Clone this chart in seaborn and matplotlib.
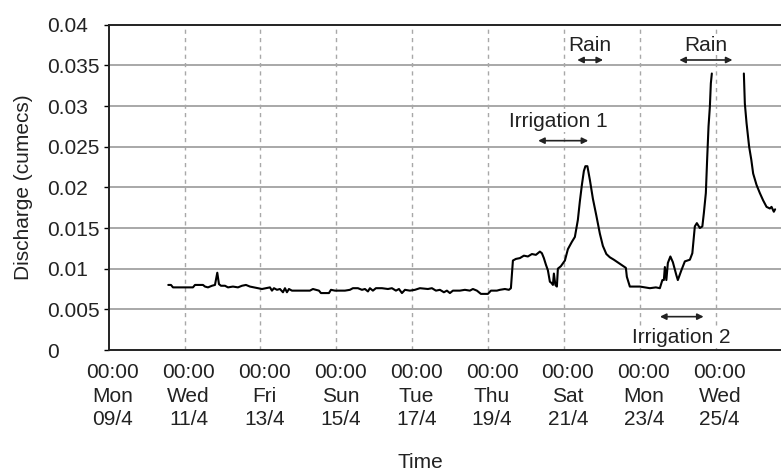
import numpy as np
import pandas as pd
import matplotlib
matplotlib.use("Agg")
import matplotlib.pyplot as plt
import matplotlib.transforms as mtransforms
import seaborn as sns

# ---- data (days since Mon 09/4 00:00, discharge in cumecs) ----
days_a = [1.570, 1.642, 1.694, 2.221, 2.274, 2.485, 2.538, 2.617, 2.722, 2.801,
          2.862, 2.906, 2.959, 3.065, 3.144, 3.275, 3.407, 3.513, 3.618, 3.723,
          3.829, 3.934, 4.040, 4.145, 4.250, 4.303, 4.356, 4.435, 4.514, 4.593,
          4.646, 4.698, 4.751, 4.830, 5.041, 5.304, 5.383, 5.462, 5.542, 5.594,
          5.805, 5.858, 5.963, 6.227, 6.358, 6.437, 6.569, 6.675, 6.754, 6.833,
          6.885, 6.964, 7.043, 7.202, 7.360, 7.465, 7.571, 7.650, 7.729, 7.808,
          7.939, 8.071, 8.203, 8.414, 8.519, 8.625, 8.730, 8.835, 8.914, 8.993,
          9.073, 9.257, 9.389, 9.520, 9.599, 9.705, 9.810, 9.995, 10.074, 10.232,
          10.311, 10.443, 10.548, 10.601, 10.654, 10.733, 10.838, 10.943, 11.049, 11.154,
          11.260, 11.365, 11.418, 11.470, 11.523, 11.576, 11.628, 11.681, 11.708, 11.734,
          11.773, 11.813, 11.839, 11.918, 12.024, 12.103, 12.208, 12.287, 12.366, 12.419,
          12.472, 12.524, 12.564, 12.617, 12.683, 12.762, 12.854, 12.946, 13.025, 13.117,
          13.209, 13.315, 13.473, 13.631, 13.657, 13.736, 14.000, 14.132, 14.264, 14.422,
          14.527, 14.593, 14.632, 14.659, 14.698, 14.738, 14.804, 14.870, 14.962, 15.001,
          15.094, 15.186, 15.318, 15.383, 15.449, 15.502, 15.581, 15.647, 15.686, 15.739,
          15.773, 15.810, 15.845, 15.871, 15.897]
flow_a = [0.0080, 0.0080, 0.0077, 0.0077, 0.0080, 0.0080, 0.0078, 0.0077, 0.0079, 0.0080,
          0.0095, 0.0081, 0.0079, 0.0079, 0.0077, 0.0078, 0.0077, 0.0079, 0.0080, 0.0078,
          0.0077, 0.0076, 0.0075, 0.0076, 0.0077, 0.0073, 0.0076, 0.0074, 0.0075, 0.0071,
          0.0076, 0.0071, 0.0075, 0.0073, 0.0073, 0.0073, 0.0075, 0.0074, 0.0073, 0.0070,
          0.0070, 0.0074, 0.0073, 0.0073, 0.0074, 0.0076, 0.0076, 0.0074, 0.0075, 0.0072,
          0.0076, 0.0073, 0.0076, 0.0076, 0.0075, 0.0076, 0.0073, 0.0075, 0.0070, 0.0074,
          0.0073, 0.0074, 0.0076, 0.0075, 0.0076, 0.0073, 0.0074, 0.0071, 0.0073, 0.0070,
          0.0073, 0.0073, 0.0074, 0.0073, 0.0075, 0.0073, 0.0069, 0.0069, 0.0073, 0.0073,
          0.0074, 0.0075, 0.0074, 0.0076, 0.0110, 0.0112, 0.0113, 0.0116, 0.0115, 0.0118,
          0.0117, 0.0121, 0.0119, 0.0113, 0.0105, 0.0098, 0.0084, 0.0082, 0.0080, 0.0094,
          0.0080, 0.0078, 0.0100, 0.0103, 0.0110, 0.0124, 0.0133, 0.0139, 0.0160, 0.0183,
          0.0203, 0.0220, 0.0226, 0.0226, 0.0209, 0.0186, 0.0165, 0.0143, 0.0128, 0.0118,
          0.0114, 0.0111, 0.0106, 0.0101, 0.0090, 0.0078, 0.0078, 0.0077, 0.0076, 0.0077,
          0.0076, 0.0086, 0.0086, 0.0102, 0.0086, 0.0107, 0.0115, 0.0108, 0.0092, 0.0086,
          0.0098, 0.0109, 0.0111, 0.0119, 0.0152, 0.0156, 0.0150, 0.0152, 0.0168, 0.0193,
          0.0234, 0.0275, 0.0299, 0.0328, 0.0340]
days_b = [16.741, 16.767, 16.812, 16.880, 16.937, 16.986, 17.075, 17.162, 17.249,
          17.339, 17.426, 17.470, 17.531, 17.565]
flow_b = [0.0340, 0.0303, 0.0279, 0.0250, 0.0234, 0.0217, 0.0203, 0.0193, 0.0184,
          0.0176, 0.0174, 0.0176, 0.0170, 0.0173]

tick_days = [0, 2, 4, 6, 8, 10, 12, 14, 16]
tick_labels = ["00:00\nMon\n09/4", "00:00\nWed\n11/4", "00:00\nFri\n13/4",
               "00:00\nSun\n15/4", "00:00\nTue\n17/4", "00:00\nThu\n19/4",
               "00:00\nSat\n21/4", "00:00\nMon\n23/4", "00:00\nWed\n25/4"]
y_ticks = [0, 0.005, 0.01, 0.015, 0.02, 0.025, 0.03, 0.035, 0.04]
y_labels = ["0", "0.005", "0.01", "0.015", "0.02", "0.025", "0.03", "0.035", "0.04"]

# annotations: label, text (x, y), arrow start x, arrow end x, arrow y
annotations = [
    ("Rain", 12.68, 0.0375, 12.35, 13.03, 0.03566),
    ("Rain", 15.73, 0.0375, 15.04, 16.44, 0.03566),
    ("Irrigation 1", 11.85, 0.02807, 11.32, 12.64, 0.02574),
    ("Irrigation 2", 15.10, 0.00151, 14.53, 15.68, 0.0041),
]

df = pd.concat([
    pd.DataFrame({"day": days_a, "q": flow_a, "seg": "a"}),
    pd.DataFrame({"day": days_b, "q": flow_b, "seg": "b"}),
], ignore_index=True)

sns.set_style("white")
plt.rcParams["font.family"] = ["Liberation Sans", "DejaVu Sans"]

fig = plt.figure(figsize=(7.81, 4.71), dpi=100)
ax = fig.add_axes([108.7 / 781, 1 - 350 / 471, 1 - 108.7 / 781, (350 - 24.7) / 471])

sns.lineplot(data=df, x="day", y="q", units="seg", estimator=None,
             color="black", lw=1.5, ax=ax, zorder=3, legend=False)

ax.set_xlim(0, 17.72)
ax.set_ylim(0, 0.04)

# grid
for yv in y_ticks[1:-1]:
    ax.axhline(yv, color="#9a9a9a", lw=1.2, zorder=1)
for xv in tick_days[1:]:
    ax.axvline(xv, color="#a8a8a8", lw=1.0, ls=(0, (3, 3)), zorder=1)

ax.set_yticks(y_ticks)
ax.set_yticklabels(y_labels)
ax.set_xticks(tick_days)
ax.set_xticklabels(tick_labels, linespacing=1.3)

ax.tick_params(axis="y", direction="out", length=3.6, width=1, color="black",
               pad=40.8, labelsize=15, left=True)
ax.tick_params(axis="x", length=0, pad=9.5, labelsize=15)
for lab in ax.get_yticklabels():
    lab.set_horizontalalignment("left")
    lab.set_color("#222222")
offset = mtransforms.ScaledTranslation(4 / 100, 0, fig.dpi_scale_trans)
for lab in ax.get_xticklabels():
    lab.set_transform(lab.get_transform() + offset)
    lab.set_multialignment("center")
    lab.set_color("#222222")

for side in ["left", "bottom", "top"]:
    ax.spines[side].set_visible(True)
    ax.spines[side].set_color("#222222")
    ax.spines[side].set_linewidth(1.4)
ax.spines["right"].set_visible(False)

ax.set_ylabel("Discharge (cumecs)", fontsize=15, color="#222222")
ax.set_xlabel("Time", fontsize=15, color="#222222")
ax.yaxis.set_label_coords(-(108.7 - 23) / (781 - 108.7), 0.5)
ax.xaxis.set_label_coords((420 - 108.7) / (781 - 108.7), -(463 - 350) / (350 - 24.7))
ax.xaxis.label.set_verticalalignment("center")
ax.yaxis.label.set_verticalalignment("center")

for text, tx, ty, ax0, ax1, ay in annotations:
    ax.text(tx, ty, text, ha="center", va="center", fontsize=15, color="#222222",
            zorder=4, bbox=dict(facecolor="white", edgecolor="none", pad=0.5))
    ax.annotate("", xy=(ax1, ay), xytext=(ax0, ay),
                arrowprops=dict(arrowstyle="<|-|>", color="#222222", lw=1.2,
                                mutation_scale=9, shrinkA=0, shrinkB=0),
                zorder=4)

fig.savefig("out.png", dpi=100)
